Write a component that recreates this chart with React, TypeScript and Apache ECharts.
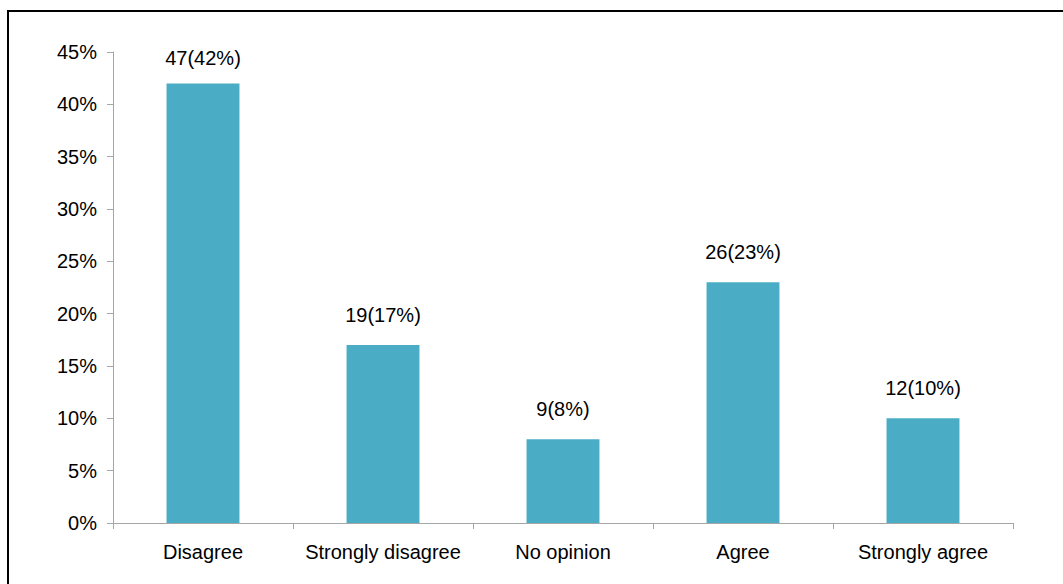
import React, { useEffect, useRef } from "react";
import * as echarts from "echarts";

const categories = ["Disagree", "Strongly disagree", "No opinion", "Agree", "Strongly agree"];
const counts = [47, 19, 9, 26, 12];
const percents = [42, 17, 8, 23, 10];
const yTicks = [0, 5, 10, 15, 20, 25, 30, 35, 40, 45];

export default function App() {
  const ref = useRef<HTMLDivElement>(null);
  useEffect(() => {
    if (!ref.current) return;
    const chart = echarts.init(ref.current, null, { renderer: "svg" });
    const font = "'Liberation Sans', Arial, sans-serif";
    chart.setOption({
      animation: false,
      grid: { left: 113, right: 50, top: 52, bottom: 61, containLabel: false },
      xAxis: {
        type: "category",
        data: categories,
        axisLine: { lineStyle: { color: "#a6a6a6", width: 1 } },
        axisTick: { show: true, length: 6, lineStyle: { color: "#a6a6a6" } },
        axisLabel: { color: "#000", fontSize: 20, fontFamily: font, margin: 19, interval: 0, hideOverlap: false },
      },
      yAxis: {
        type: "value",
        min: yTicks[0],
        max: yTicks[yTicks.length - 1],
        interval: 5,
        axisLine: { show: true, lineStyle: { color: "#a6a6a6", width: 1 } },
        axisTick: { show: true, length: 6, lineStyle: { color: "#a6a6a6" } },
        splitLine: { show: false },
        axisLabel: { color: "#000", fontSize: 20, fontFamily: font, margin: 16, formatter: "{value}%" },
      },
      series: [
        {
          type: "bar",
          barWidth: "40.5%",
          itemStyle: { color: "#4bacc6" },
          data: percents.map((p, i) => ({
            value: p,
            label: { distance: i === 0 ? 15 : 20 },
          })),
          label: {
            show: true,
            position: "top",
            color: "#000",
            fontSize: 20,
            fontFamily: font,
            formatter: (params: any) => `${counts[params.dataIndex]}(${percents[params.dataIndex]}%)`,
          },
        },
      ],
    });
    return () => chart.dispose();
  }, []);
  return (
    <div style={{ position: "fixed", left: 0, top: 0, width: 1063, height: 584, background: "#fff", overflow: "hidden" }}>
      <div
        style={{
          position: "absolute",
          left: 7,
          top: 10,
          width: 1200,
          height: 700,
          borderTop: "2px solid #000",
          borderLeft: "2px solid #000",
          boxSizing: "border-box",
        }}
      />
      <div ref={ref} style={{ position: "absolute", left: 0, top: 0, width: 1063, height: 584 }} />
    </div>
  );
}
